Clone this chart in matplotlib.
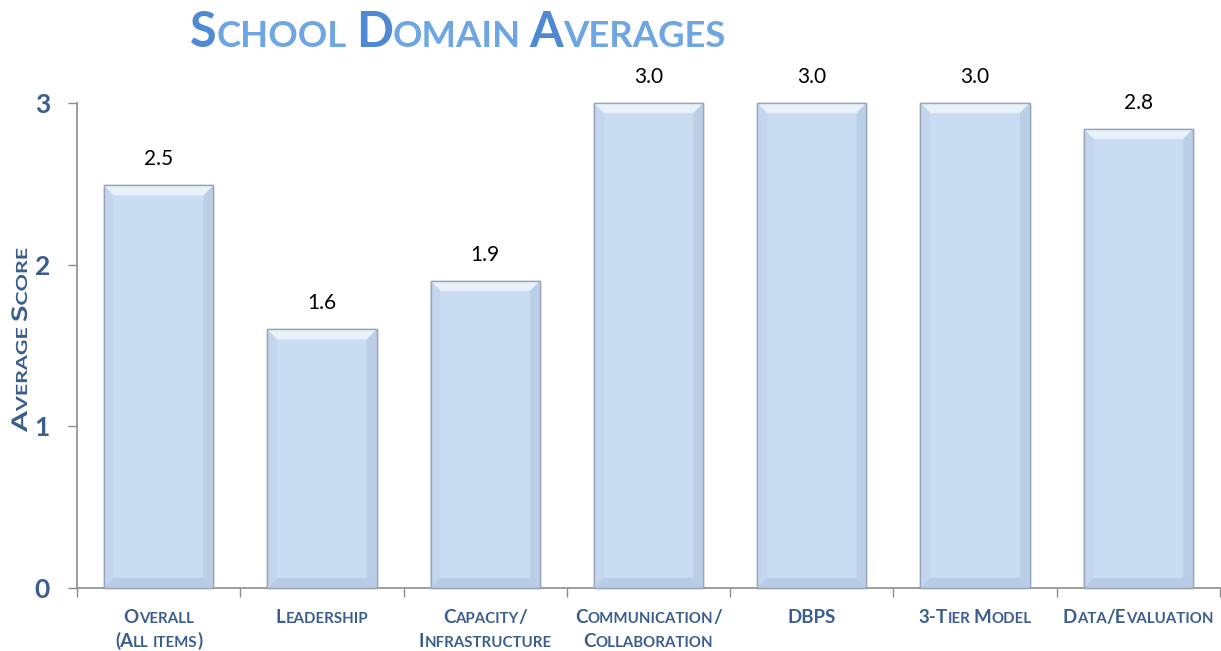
import numpy as np
import matplotlib
matplotlib.use("Agg")
import matplotlib.pyplot as plt
from matplotlib.patches import Polygon, PathPatch
from matplotlib.transforms import IdentityTransform, Affine2D
from matplotlib.textpath import TextPath
from matplotlib.font_manager import FontProperties

categories = ["Overall\n(All items)", "Leadership", "Capacity/\nInfrastructure",
              "Communication/\nCollaboration", "DBPS", "3-Tier Model", "Data/Evaluation"]
scores = [2.49, 1.60, 1.90, 3.00, 3.00, 3.00, 2.84]
yticks = [0, 1, 2, 3]

FONT = "Lato"
DARK_BLUE = "#3B5E8F"
FACE = "#CADCF2"

fig = plt.figure(figsize=(12.21, 6.51), dpi=100)
ax = fig.add_axes([77 / 1221, 63 / 651, 1143 / 1221, 485 / 651])
x = np.arange(len(categories))
bars = ax.bar(x, scores, width=0.67, color=FACE, edgecolor="#98A7B8", linewidth=1.0, zorder=2, clip_on=False)

# soft bevel on each bar
bx, by = 0.06, 0.062
for b in bars:
    x0, x1 = b.get_x(), b.get_x() + b.get_width()
    h = b.get_height()
    sides = [
        ([(x0, h), (x1, h), (x1 - bx, h - by), (x0 + bx, h - by)], "#E9F1FB"),
        ([(x0, 0), (x0, h), (x0 + bx, h - by), (x0 + bx, by)], "#C3D6ED"),
        ([(x1, 0), (x1, h), (x1 - bx, h - by), (x1 - bx, by)], "#BACEE6"),
        ([(x0, 0), (x1, 0), (x1 - bx, by), (x0 + bx, by)], "#B8CCE5"),
    ]
    for pts, c in sides:
        ax.add_patch(Polygon(pts, closed=True, facecolor=c, edgecolor="none", zorder=3, clip_on=False))
    ax.add_patch(Polygon([(x0, 0), (x0, h), (x1, h), (x1, 0)], closed=True, facecolor="none",
                         edgecolor="#98A7B8", linewidth=1.0, zorder=4, clip_on=False))
    ax.text(b.get_x() + b.get_width() / 2, h + 0.1, f"{h:.1f}", ha="center", va="bottom",
            fontsize=15, family=FONT, color="black")

ax.set_xlim(-0.5, len(categories) - 0.5)
ax.set_ylim(0, 3)
ax.set_yticks(yticks)
ax.set_yticklabels([str(t) for t in yticks], fontsize=19, fontweight="bold", family=FONT, color=DARK_BLUE)
ax.tick_params(axis="y", length=6.5, width=1, color="#8C8C8C", pad=13)
ax.set_xticks(np.arange(-0.5, len(categories), 1.0))
ax.set_xticklabels([])
ax.tick_params(axis="x", length=6.5, width=1, color="#8C8C8C")
for s in ["top", "right"]:
    ax.spines[s].set_visible(False)
for s in ["left", "bottom"]:
    ax.spines[s].set_color("#8C8C8C")
    ax.spines[s].set_linewidth(1.2)

fig.canvas.draw()
renderer = fig.canvas.get_renderer()


def text_width(s, size, weight="bold"):
    t = fig.text(0, 0, s, fontsize=size, fontweight=weight, family=FONT)
    w = t.get_window_extent(renderer).width
    t.remove()
    return w


def split_runs(text, big, small):
    space = text_width("x x", small) - text_width("xx", small)
    runs = []
    for ch in text:
        kind = "space" if ch == " " else ("small" if ch.islower() else "big")
        if runs and runs[-1][1] == kind:
            runs[-1][0] += ch
        else:
            runs.append([ch, kind])
    out = []
    for s, kind in runs:
        if kind == "space":
            out.append((s, kind, small, space * len(s)))
        else:
            size = big if kind == "big" else small
            out.append((s.upper(), kind, size, text_width(s.upper(), size)))
    return out


def smallcaps(px, py, text, big, small, cbig, csmall, ha="center"):
    runs = split_runs(text, big, small)
    total = sum(r[3] for r in runs)
    off = -total / 2 if ha == "center" else 0
    for s, kind, size, w in runs:
        if kind != "space":
            fig.text(px + off, py, s, fontsize=size, fontweight="bold", family=FONT,
                     color=cbig if kind == "big" else csmall, ha="left", va="baseline",
                     transform=IdentityTransform())
        off += w


def smallcaps_vertical(px, pyc, text, big, small, color, length):
    # rotated small caps, stretched along the text to the given length in pixels
    runs = split_runs(text, big, small)
    total = sum(r[3] for r in runs)
    sx = length / total
    fp = FontProperties(family=FONT, weight="bold")
    off = 0
    for s, kind, size, w in runs:
        if kind != "space":
            tp = TextPath((0, 0), s, size=size * fig.dpi / 72, prop=fp)
            tr = Affine2D().translate(off, 0).scale(sx, 1).translate(-length / 2, 0) \
                .rotate_deg(90).translate(px, pyc)
            fig.add_artist(PathPatch(tr.transform_path(tp), facecolor=color, edgecolor="none",
                                     transform=IdentityTransform()))
        off += w


H = fig.bbox.height
# title
smallcaps(190, H - 47, "School Domain Averages", 35, 26.3, "#4F89D4", "#6DA6E2", ha="left")
# y axis label
smallcaps_vertical(27, H - 340, "Average Score", 15.5, 11, DARK_BLUE, 184)
# category labels
for i, lab in enumerate(categories):
    cx = ax.transData.transform((x[i], 0))[0]
    for j, line in enumerate(lab.split("\n")):
        smallcaps(cx, H - 623 - 24 * j, line, 13.5, 10.8, DARK_BLUE, DARK_BLUE)

fig.savefig("out.png", dpi=100)
